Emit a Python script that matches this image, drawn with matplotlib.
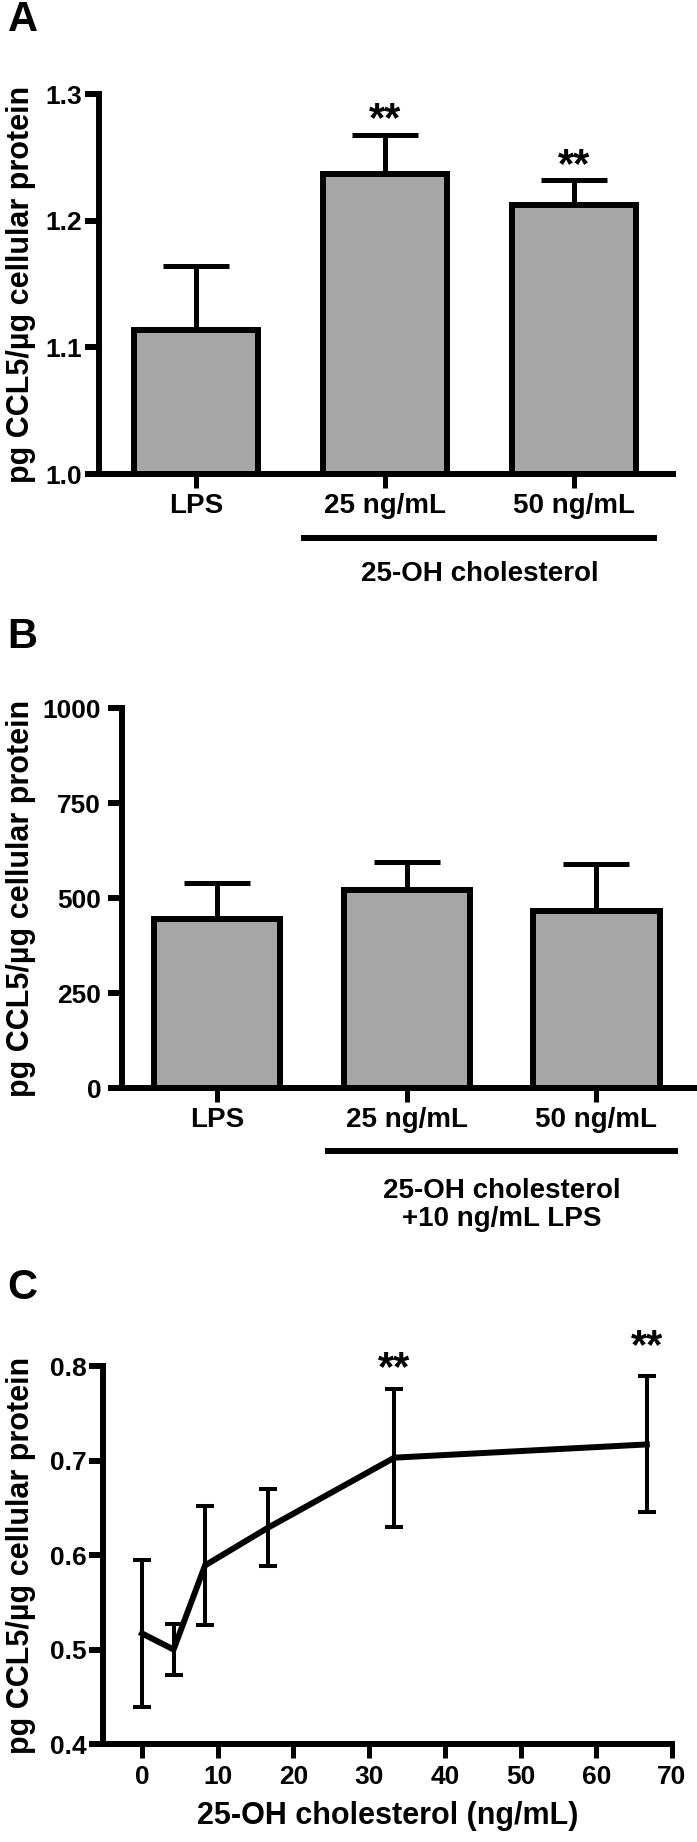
import matplotlib
matplotlib.use("Agg")
import matplotlib.pyplot as plt
import matplotlib.transforms as mtransforms
import numpy as np

plt.rcParams['font.family'] = ['Liberation Sans', 'DejaVu Sans']
plt.rcParams['font.weight'] = 'bold'
plt.rcParams['axes.labelweight'] = 'bold'

# ---------------- data ----------------
cats_A = ["LPS", "25 ng/mL", "50 ng/mL"]
mean_A = [1.114, 1.237, 1.2125]
err_A = [0.050, 0.031, 0.0195]
sig_A = ["", "**", "**"]
yticks_A = [1.0, 1.1, 1.2, 1.3]

cats_B = ["LPS", "25 ng/mL", "50 ng/mL"]
mean_B = [445, 522, 466]
err_B = [95, 73, 124]
yticks_B = [0, 250, 500, 750, 1000]

dose_C = [0, 4.17, 8.33, 16.67, 33.33, 66.67]
mean_C = [0.517, 0.500, 0.589, 0.629, 0.703, 0.717]
err_C = [0.078, 0.027, 0.063, 0.041, 0.073, 0.072]
sig_C = ["", "", "", "", "**", "**"]
yticks_C = [0.4, 0.5, 0.6, 0.7, 0.8]
xticks_C = [0, 10, 20, 30, 40, 50, 60, 70]

ylabel = "pg CCL5/µg cellular protein"

W, H = 697, 1842
DPI = 100
fig = plt.figure(figsize=(W / DPI, H / DPI), dpi=DPI)

SPINE = 4.3
BARCOL = "#a6a6a6"
STAR_FS = 30


def px_axes(l, r, t, b):
    return fig.add_axes([l / W, 1 - b / H, (r - l) / W, (b - t) / H])


def style(ax, ypad):
    for s in ["top", "right"]:
        ax.spines[s].set_visible(False)
    for s in ["left", "bottom"]:
        ax.spines[s].set_linewidth(SPINE)
        ax.spines[s].set_capstyle("projecting")
    ax.tick_params(axis="y", length=10, width=SPINE, pad=ypad, labelsize=19)
    ax.tick_params(axis="x", length=10, width=3.6, pad=4, labelsize=20)


# ---------------- Panel A ----------------
axA = px_axes(99, 673, 94, 474)
xA = np.arange(len(cats_A))
axA.bar(xA, [m - 1.0 for m in mean_A], bottom=1.0, width=0.66, color=BARCOL,
        edgecolor="black", linewidth=4.3, zorder=2)
axA.errorbar(xA, mean_A, yerr=[np.zeros(len(err_A)), err_A], fmt="none",
             ecolor="black", elinewidth=3.6, capsize=23.5, capthick=3.6, zorder=1)
axA.set_xlim(-0.513, 2.524)
axA.set_ylim(1.0, 1.3)
axA.set_yticks(yticks_A)
axA.set_yticklabels([f"{v:.1f}" for v in yticks_A])
axA.set_xticks(xA)
axA.set_xticklabels(cats_A)
style(axA, 2)
for xi, m, e, s in zip(xA, mean_A, err_A, sig_A):
    if s:
        axA.annotate(s, (xi, m + e), xytext=(0, 2.5), textcoords="offset points",
                     ha="center", va="baseline", fontsize=STAR_FS,
                     annotation_clip=False)
trA = mtransforms.blended_transform_factory(axA.transData, axA.transAxes)
axA.plot([0.556, 2.44], [-0.168, -0.168], color="black", lw=4.3,
         solid_capstyle="butt", transform=trA, clip_on=False)
axA.text(1.5, -0.263, "25-OH cholesterol", transform=trA, ha="center",
         va="center", fontsize=20)
fig.text(21 / W, 1 - 284 / H, ylabel, rotation=90, ha="center", va="center",
         fontsize=22)
fig.text(8 / W, 1 - 20 / H, "A", ha="left", va="center", fontsize=30)

# ---------------- Panel B ----------------
axB = px_axes(122, 697, 708, 1088)
xB = np.arange(len(cats_B))
axB.bar(xB, mean_B, width=0.665, color=BARCOL, edgecolor="black",
        linewidth=4.3, zorder=2)
axB.errorbar(xB, mean_B, yerr=[np.zeros(len(err_B)), err_B], fmt="none",
             ecolor="black", elinewidth=3.6, capsize=23.5, capthick=3.6, zorder=1)
axB.set_xlim(-0.50, 2.53)
axB.set_ylim(0, 1000)
axB.set_yticks(yticks_B)
axB.set_xticks(xB)
axB.set_xticklabels(cats_B)
style(axB, 5)
trB = mtransforms.blended_transform_factory(axB.transData, axB.transAxes)
axB.plot([0.57, 2.43], [-0.166, -0.166], color="black", lw=4.3,
         solid_capstyle="butt", transform=trB, clip_on=False)
axB.text(1.5, -0.308, "25-OH cholesterol\n+10 ng/mL LPS", transform=trB,
         ha="center", va="center", fontsize=20, linespacing=1.1,
         multialignment="center")
fig.text(21 / W, 1 - 898 / H, ylabel, rotation=90, ha="center", va="center",
         fontsize=22)
fig.text(7 / W, 1 - 637 / H, "B", ha="left", va="center", fontsize=30)

# ---------------- Panel C ----------------
axC = px_axes(103, 672, 1366, 1744)
axC.errorbar(dose_C, mean_C, yerr=err_C, fmt="none", ecolor="black",
             elinewidth=2.9, capsize=6.8, capthick=2.9, zorder=2)
axC.plot(dose_C, mean_C, color="black", lw=4.3, zorder=3,
         solid_joinstyle="miter")
axC.set_xlim(-5.15, 70)
axC.set_ylim(0.4, 0.8)
axC.set_yticks(yticks_C)
axC.set_yticklabels([f"{v:.1f}" for v in yticks_C])
axC.set_xticks(xticks_C)
style(axC, 2)
axC.tick_params(axis="x", labelsize=19, pad=5)
star_off_C = [0, 0, 0, 0, 6, 13]
for xi, m, e, s, off in zip(dose_C, mean_C, err_C, sig_C, star_off_C):
    if s:
        axC.annotate(s, (xi, m + e), xytext=(0, off), textcoords="offset points",
                     ha="center", va="baseline", fontsize=STAR_FS,
                     annotation_clip=False)
axC.set_xlabel("25-OH cholesterol (ng/mL)", fontsize=22, fontweight="bold",
               labelpad=9)
fig.text(21 / W, 1 - 1555 / H, ylabel, rotation=90, ha="center", va="center",
         fontsize=22)
fig.text(7 / W, 1 - 1288 / H, "C", ha="left", va="center", fontsize=30)

fig.savefig("out.png", dpi=DPI)
